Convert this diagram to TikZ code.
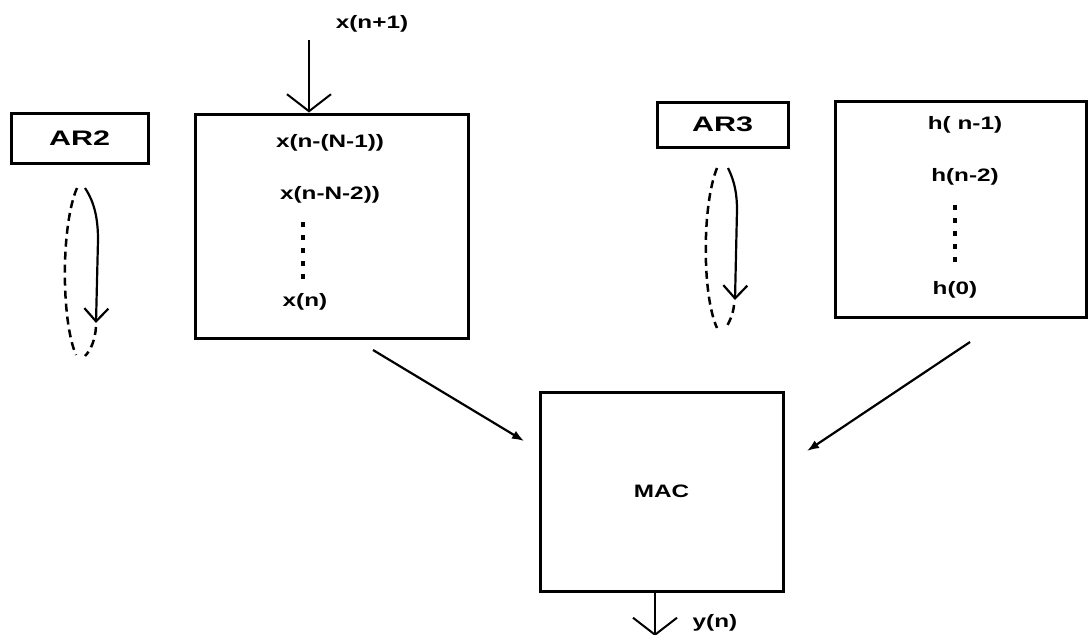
\documentclass[tikz,border=0pt]{standalone}
\usepackage{fontspec}
\setmainfont{Liberation Sans}
\usetikzlibrary{arrows.meta,calc}
\newcommand\stretchtxt[1]{\scalebox{1.35}[1]{#1}}
\newcommand\stretchbig[1]{\scalebox{1.45}[1]{#1}}
\tikzset{
  box/.style={draw, line width=3pt, inner sep=0pt},
  lab/.style={inner sep=0pt, font=\bfseries\fontsize{18}{21}\selectfont},
  blab/.style={inner sep=0pt, font=\bfseries\fontsize{21}{25}\selectfont},
  vline/.style={line width=2pt, -{Straight Barb[length=17pt,width=44pt,line width=2pt]}},
  eline/.style={line width=2.2pt, -{Straight Barb[length=13pt,width=24pt,line width=2.2pt]}},
  dline/.style={line width=2.5pt, dash pattern=on 8pt off 5pt},
  diag/.style={line width=2.2pt, -{Latex[length=12pt,width=9pt]}},
  vdots/.style={line width=3.5pt, dash pattern=on 5pt off 8pt},
}
\begin{document}
\begin{tikzpicture}[x=1pt,y=-1pt]
\useasboundingbox[fill=white] (0,0) rectangle (1088,635);
% boxes
\node[box, minimum width=137pt, minimum height=50pt, blab] (ar2) at (79.5,138) {\stretchbig{AR2}};
\node[box, minimum width=273pt, minimum height=224pt] (xbox) at (331.5,226) {};
\node[box, minimum width=131pt, minimum height=45pt, blab] (ar3) at (722.5,124.5) {\stretchbig{AR3}};
\node[box, minimum width=251pt, minimum height=216pt] (hbox) at (960.5,209) {};
\node[box, minimum width=243pt, minimum height=199pt, lab] (mac) at (661.5,491.5) {\stretchtxt{MAC}};
% x box texts
\node[lab] (xa) at (330,143) {\stretchtxt{x(n-(N-1))}};
\node[lab] (xb) at (330,195) {\stretchtxt{x(n-N-2))}};
\coordinate (xd1) at (303,222);
\coordinate (xd2) at (303,283);
\draw[vdots] (xd1) -- (xd2);
\node[lab] (xn) at (305,302) {\stretchtxt{x(n)}};
% h box texts
\node[lab] (ha) at (965,125) {\stretchtxt{h( n-1)}};
\node[lab] (hb) at (965,177) {\stretchtxt{h(n-2)}};
\coordinate (hd1) at (955,205);
\coordinate (hd2) at (955,266);
\draw[vdots] (hd1) -- (hd2);
\node[lab] (h0) at (955,290) {\stretchtxt{h(0)}};
% input
\coordinate (xin) at (309,40);
\draw[vline] (xin) -- (xin |- xbox.north);
\node[lab] (xinl) at (372,24) {\stretchtxt{x(n+1)}};
% output
\coordinate (yout) at (655,636);
\draw[vline] (yout |- mac.south) -- (yout);
\node[lab] (youtl) at (715,623) {\stretchtxt{y(n)}};
% diagonal arrows
\coordinate (d1s) at (373,350);
\coordinate (d1e) at (524,441);
\draw[diag] (d1s) -- (d1e);
\coordinate (d2s) at (970,342);
\coordinate (d2e) at (807,451);
\draw[diag] (d2s) -- (d2e);
% AR2 loop
\draw[dline] (77,188) .. controls (61,225) and (61,320) .. (76,355);
\draw[eline] (85,188) .. controls (95,203) and (98,220) .. (98,240) -- (96,323);
\draw[dline] (96,327) .. controls (95,340) and (91,350) .. (85,356);
% AR3 loop
\draw[dline] (717,168) .. controls (702,205) and (702,295) .. (717,328);
\draw[eline] (728,168) .. controls (735,182) and (737,195) .. (737,210) -- (735,300);
\draw[dline] (734,305) .. controls (733,315) and (729,323) .. (725,329);
\end{tikzpicture}
\end{document}
